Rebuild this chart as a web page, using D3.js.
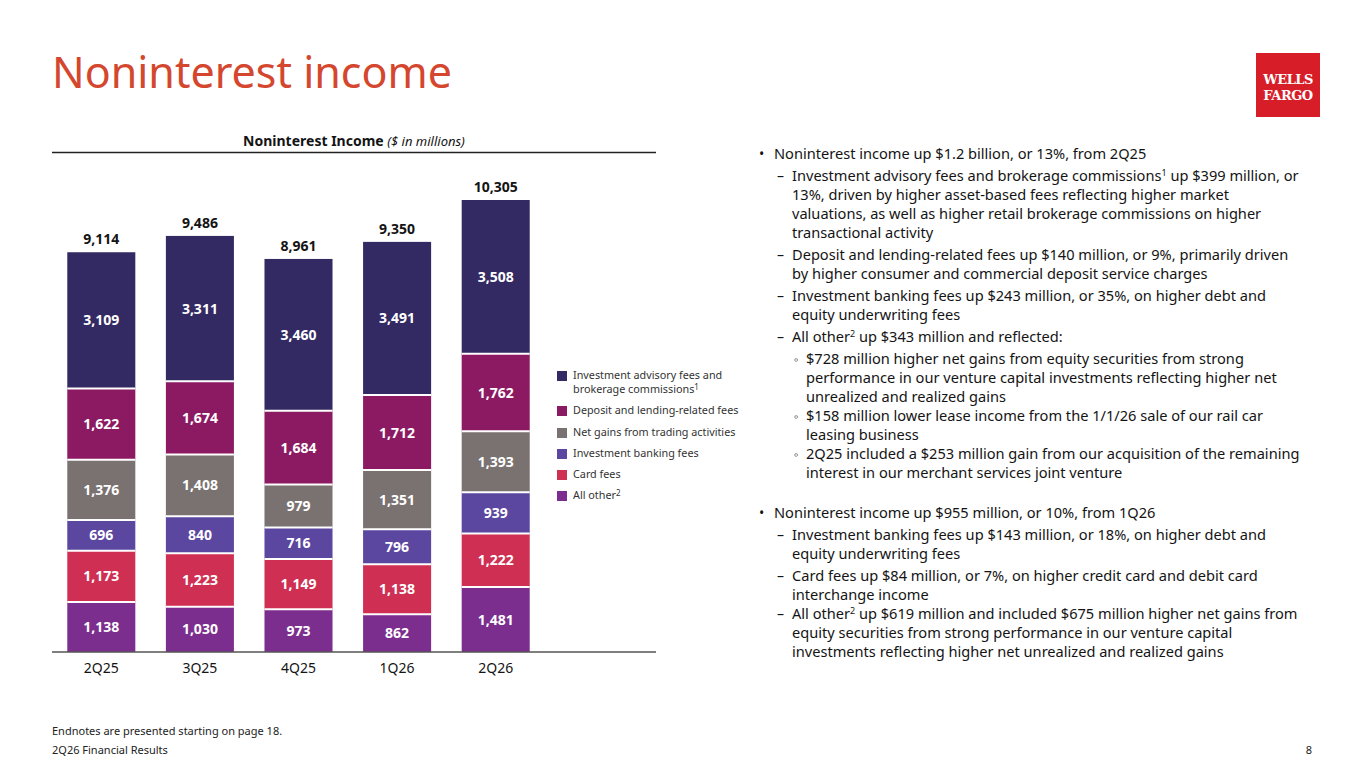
<!DOCTYPE html>
<html>
<head>
<meta charset="utf-8">
<script src="https://cdn.jsdelivr.net/npm/d3@7"></script>
<style>
  body { margin: 0; background: #fff; }
  svg { display: block; font-family: "Noto Sans", "Open Sans", sans-serif; }
</style>
</head>
<body>
<svg id="page" width="1365" height="768"></svg>
<script>
// data
var quarters = ["2Q25", "3Q25", "4Q25", "1Q26", "2Q26"];
var allOther = [1138, 1030, 973, 862, 1481];
var cardFees = [1173, 1223, 1149, 1138, 1222];
var ibFees = [696, 840, 716, 796, 939];
var tradingGains = [1376, 1408, 979, 1351, 1393];
var depositFees = [1622, 1674, 1684, 1712, 1762];
var advisoryFees = [3109, 3311, 3460, 3491, 3508];
var totals = [9114, 9486, 8961, 9350, 10305];

var seriesNames = ["All other", "Card fees", "Investment banking fees",
  "Net gains from trading activities", "Deposit and lending-related fees",
  "Investment advisory fees and brokerage commissions"];
var seriesColors = ["#7c2e8e", "#cf2f52", "#5b46a0", "#7a7270", "#8c1a63", "#332a63"];

var bullets = [
  {lvl: 0, lines: ["Noninterest income up $1.2 billion, or 13%, from 2Q25"]},
  {lvl: 1, lines: ["Investment advisory fees and brokerage commissions^1 up $399 million, or",
    "13%, driven by higher asset-based fees reflecting higher market",
    "valuations, as well as higher retail brokerage commissions on higher",
    "transactional activity"]},
  {lvl: 1, lines: ["Deposit and lending-related fees up $140 million, or 9%, primarily driven",
    "by higher consumer and commercial deposit service charges"]},
  {lvl: 1, lines: ["Investment banking fees up $243 million, or 35%, on higher debt and",
    "equity underwriting fees"]},
  {lvl: 1, lines: ["All other^2 up $343 million and reflected:"]},
  {lvl: 2, lines: ["$728 million higher net gains from equity securities from strong",
    "performance in our venture capital investments reflecting higher net",
    "unrealized and realized gains"]},
  {lvl: 2, lines: ["$158 million lower lease income from the 1/1/26 sale of our rail car",
    "leasing business"]},
  {lvl: 2, lines: ["2Q25 included a $253 million gain from our acquisition of the remaining",
    "interest in our merchant services joint venture"]},
  {lvl: 0, lines: ["Noninterest income up $955 million, or 10%, from 1Q26"], gapBefore: 21},
  {lvl: 1, lines: ["Investment banking fees up $143 million, or 18%, on higher debt and",
    "equity underwriting fees"]},
  {lvl: 1, lines: ["Card fees up $84 million, or 7%, on higher credit card and debit card",
    "interchange income"]},
  {lvl: 1, lines: ["All other^2 up $619 million and included $675 million higher net gains from",
    "equity securities from strong performance in our venture capital",
    "investments reflecting higher net unrealized and realized gains"]}
];

var svg = d3.select("#page");
var ink = "#141414";

// title + logo
svg.append("text")
   .attr("x", 52).attr("y", 88)
   .attr("fill", "#d4472e")
   .style("font-size", "43px")
   .text("Noninterest income");

var logo = svg.append("g").attr("transform", "translate(1256,53)");
logo.append("rect").attr("width", 64).attr("height", 64).attr("fill", "#d71e28");
logo.selectAll("text")
    .data(["WELLS", "FARGO"])
    .enter().append("text")
    .attr("x", 32).attr("y", function(d, i) { return 31 + i * 16; })
    .attr("text-anchor", "middle")
    .attr("fill", "#fff")
    .style("font-family", "'DejaVu Serif', 'Liberation Serif', serif")
    .style("font-weight", "bold")
    .style("font-size", "13px")
    .style("letter-spacing", "-0.5px")
    .text(function(d) { return d; });

// chart header
var head = svg.append("text")
   .attr("x", 354).attr("y", 146)
   .attr("text-anchor", "middle")
   .attr("fill", ink)
   .style("font-size", "14px");
head.append("tspan").style("font-weight", "bold").text("Noninterest Income ");
head.append("tspan").style("font-style", "italic").style("font-size", "13px").text("($ in millions)");

svg.append("line")
   .attr("x1", 52).attr("x2", 656).attr("y1", 152.5).attr("y2", 152.5)
   .attr("stroke", "#222").attr("stroke-width", 1.5);

// scales
var x = d3.scaleBand().domain(quarters).range([52, 545]).paddingInner(0.31).paddingOuter(0.155);
var y = d3.scaleLinear().domain([0, 10305]).range([652, 200]);

var rows = quarters.map(function(q, i) {
  return {q: q, s0: allOther[i], s1: cardFees[i], s2: ibFees[i], s3: tradingGains[i], s4: depositFees[i], s5: advisoryFees[i]};
});
var stack = d3.stack().keys(["s0", "s1", "s2", "s3", "s4", "s5"])(rows);

var layers = svg.append("g").selectAll("g")
   .data(stack)
   .enter().append("g")
   .attr("fill", function(d, i) { return seriesColors[i]; });

layers.selectAll("rect")
   .data(function(d) { return d; })
   .enter().append("rect")
   .attr("x", function(d) { return x(d.data.q); })
   .attr("width", x.bandwidth())
   .attr("y", function(d) { return y(d[1]); })
   .attr("height", function(d) { return y(d[0]) - y(d[1]); });

// white separators between segments
layers.filter(function(d, i) { return i > 0; })
   .selectAll("line")
   .data(function(d) { return d; })
   .enter().append("line")
   .attr("x1", function(d) { return x(d.data.q); })
   .attr("x2", function(d) { return x(d.data.q) + x.bandwidth(); })
   .attr("y1", function(d) { return y(d[0]); })
   .attr("y2", function(d) { return y(d[0]); })
   .attr("stroke", "#fff").attr("stroke-width", 2);

layers.selectAll("text")
   .data(function(d) { return d; })
   .enter().append("text")
   .attr("x", function(d) { return x(d.data.q) + x.bandwidth() / 2; })
   .attr("y", function(d) { return (y(d[0]) + y(d[1])) / 2 + 5; })
   .attr("text-anchor", "middle")
   .attr("fill", "#fff")
   .style("font-weight", "bold")
   .style("font-size", "14px")
   .text(function(d) { return d3.format(",")(d[1] - d[0]); });

// totals
svg.append("g").selectAll("text")
   .data(quarters)
   .enter().append("text")
   .attr("x", function(d) { return x(d) + x.bandwidth() / 2; })
   .attr("y", function(d, i) { return y(totals[i]) - 8; })
   .attr("text-anchor", "middle")
   .attr("fill", ink)
   .style("font-weight", "bold")
   .style("font-size", "14px")
   .text(function(d, i) { return d3.format(",")(totals[i]); });

// x axis
var xAxis = svg.append("g")
   .attr("transform", "translate(0,652)")
   .call(d3.axisBottom(x).tickSize(0).tickPadding(11));
xAxis.select(".domain").remove();
xAxis.selectAll("text").attr("fill", ink).style("font-size", "14px").style("font-family", "'Noto Sans', sans-serif");
svg.append("line")
   .attr("x1", 52).attr("x2", 656).attr("y1", 652).attr("y2", 652)
   .attr("stroke", "#555").attr("stroke-width", 1.5);

// text with ^n superscripts
function addRich(sel, str, supSize, lift) {
  var parts = str.split(/\^(\d)/);
  var raised = false;
  parts.forEach(function(p, k) {
    if (k % 2 == 1) {
      sel.append("tspan").attr("dy", -lift).style("font-size", supSize).text(p);
      raised = true;
    } else if (p) {
      var t = sel.append("tspan").text(p);
      if (raised) { t.attr("dy", lift); raised = false; }
    }
  });
}

// legend (top series first)
var legendY = [376, 411, 433, 454, 475, 496];
var legend = svg.append("g").selectAll("g")
   .data(d3.range(6))
   .enter().append("g")
   .attr("transform", function(d, i) { return "translate(557," + legendY[i] + ")"; });
legend.append("rect")
   .attr("x", 0).attr("y", -5).attr("width", 10).attr("height", 10)
   .attr("fill", function(d) { return seriesColors[5 - d]; });
var legendLabels = [["Investment advisory fees and", "brokerage commissions^1"],
  ["Deposit and lending-related fees"], ["Net gains from trading activities"],
  ["Investment banking fees"], ["Card fees"], ["All other^2"]];

legend.each(function(d) {
  var g = d3.select(this);
  legendLabels[d].forEach(function(line, j) {
    var t = g.append("text")
      .attr("x", 16).attr("y", 3 + j * 14)
      .attr("fill", "#333")
      .style("font-size", "10.8px");
    addRich(t, line, "8px", 3);
  });
});

// commentary
var marks = ["•", "–", "◦"];
var markX = [759, 777, 794];
var textX = [774, 792, 806];
var cy = 154;
var prevLvl = null;
bullets.forEach(function(b, i) {
  if (i > 0) {
    cy += 19;
    if (b.gapBefore) cy += b.gapBefore;
    else if (!(prevLvl == 2 && b.lvl == 2) && !(i == bullets.length - 1)) cy += 3;
  }
  svg.append("text")
     .attr("x", markX[b.lvl]).attr("y", cy + 5)
     .attr("fill", ink)
     .style("font-size", b.lvl == 2 ? "13px" : "14px")
     .text(marks[b.lvl]);
  b.lines.forEach(function(line, j) {
    if (j > 0) cy += 19;
    var t = svg.append("text")
       .attr("x", textX[b.lvl]).attr("y", cy + 5)
       .attr("fill", ink)
       .style("font-size", "14.6px");
    addRich(t, line, "9px", 5);
  });
  prevLvl = b.lvl;
});

// footer
svg.append("text").attr("x", 52).attr("y", 735).attr("fill", "#222").style("font-size", "11px")
   .text("Endnotes are presented starting on page 18.");
svg.append("text").attr("x", 52).attr("y", 754).attr("fill", "#222").style("font-size", "11px")
   .text("2Q26 Financial Results");
svg.append("text").attr("x", 1312).attr("y", 754).attr("text-anchor", "end").attr("fill", "#222").style("font-size", "11px")
   .text("8");
</script>
</body>
</html>
